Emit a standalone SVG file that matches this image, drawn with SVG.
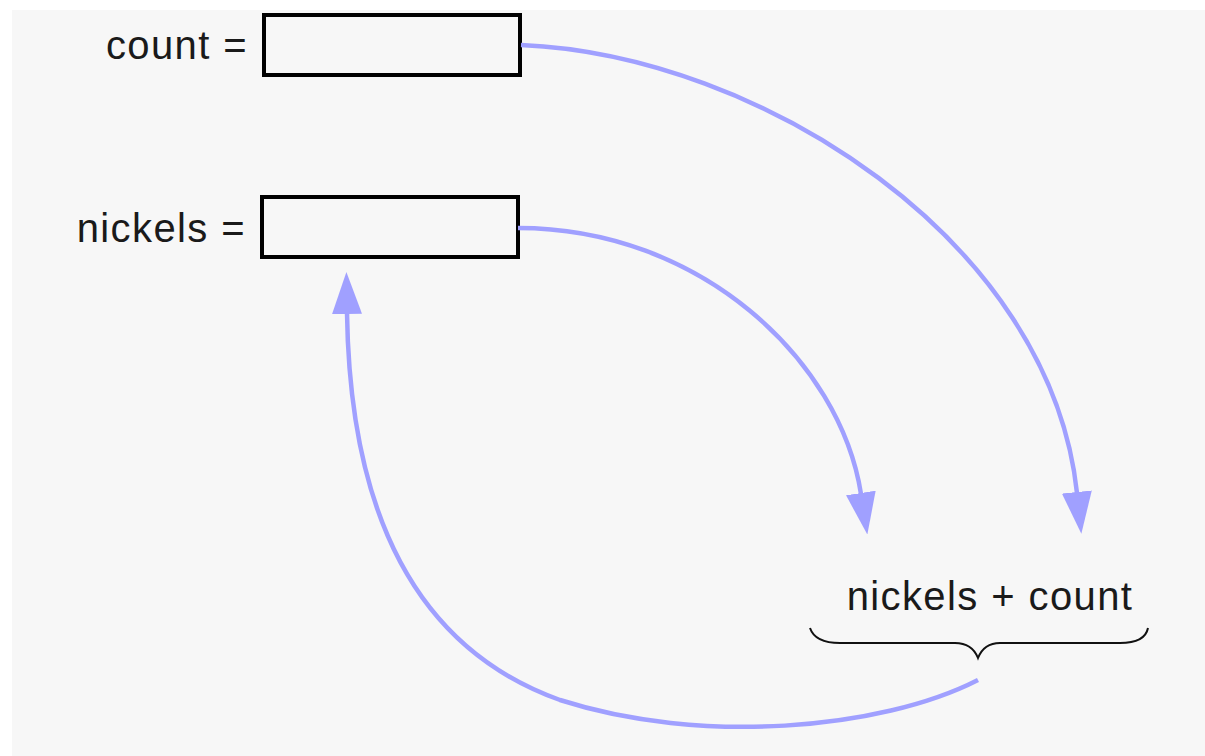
<svg xmlns="http://www.w3.org/2000/svg" width="1205" height="756" viewBox="0 0 1205 756">
<style>
.lbl{font-family:"Liberation Sans",Arial,sans-serif;font-size:40px;fill:#1a1a1a;letter-spacing:1.4px}
.box{fill:none;stroke:#000;stroke-width:4}
.conn{fill:none;stroke:#a0a0ff;stroke-width:4.5}
</style>
<defs>
<marker id="ah" viewBox="0 0 42 30" refX="1" refY="15" markerWidth="42" markerHeight="30" markerUnits="userSpaceOnUse" orient="auto">
<path d="M0,0 L42,15 L0,30 z" fill="#a0a0ff"/>
</marker>
</defs>
<rect x="0" y="0" width="1205" height="756" fill="#fff"/>
<rect x="12" y="10" width="1193" height="746" fill="#f7f7f7"/>
<g id="count">
<text class="lbl" x="248" y="59" text-anchor="end">count =</text>
<rect class="box" x="264" y="15" width="256" height="60"/>
</g>
<g id="nickels">
<text class="lbl" x="246" y="242" text-anchor="end">nickels =</text>
<rect class="box" x="262" y="197" width="256" height="60"/>
</g>
<g id="sum">
<text class="lbl" x="990" y="610" text-anchor="middle">nickels + count</text>
<path d="M810,628 Q815,643 840,643 L955,643 Q972,643 978,658 Q984,643 1000,643 L1120,643 Q1145,643 1148,628" fill="none" stroke="#111" stroke-width="2"/>
</g>
<g id="connectors">
<path class="conn" d="M521,45 C760,55 1050,240 1077,493" marker-end="url(#ah)"/>
<path class="conn" d="M518,228 C700,228 840,360 861,494" marker-end="url(#ah)"/>
<path class="conn" d="M978,680 C880,730 700,745 560,700 C420,650 350,520 347,313" marker-end="url(#ah)"/>
</g>
</svg>
